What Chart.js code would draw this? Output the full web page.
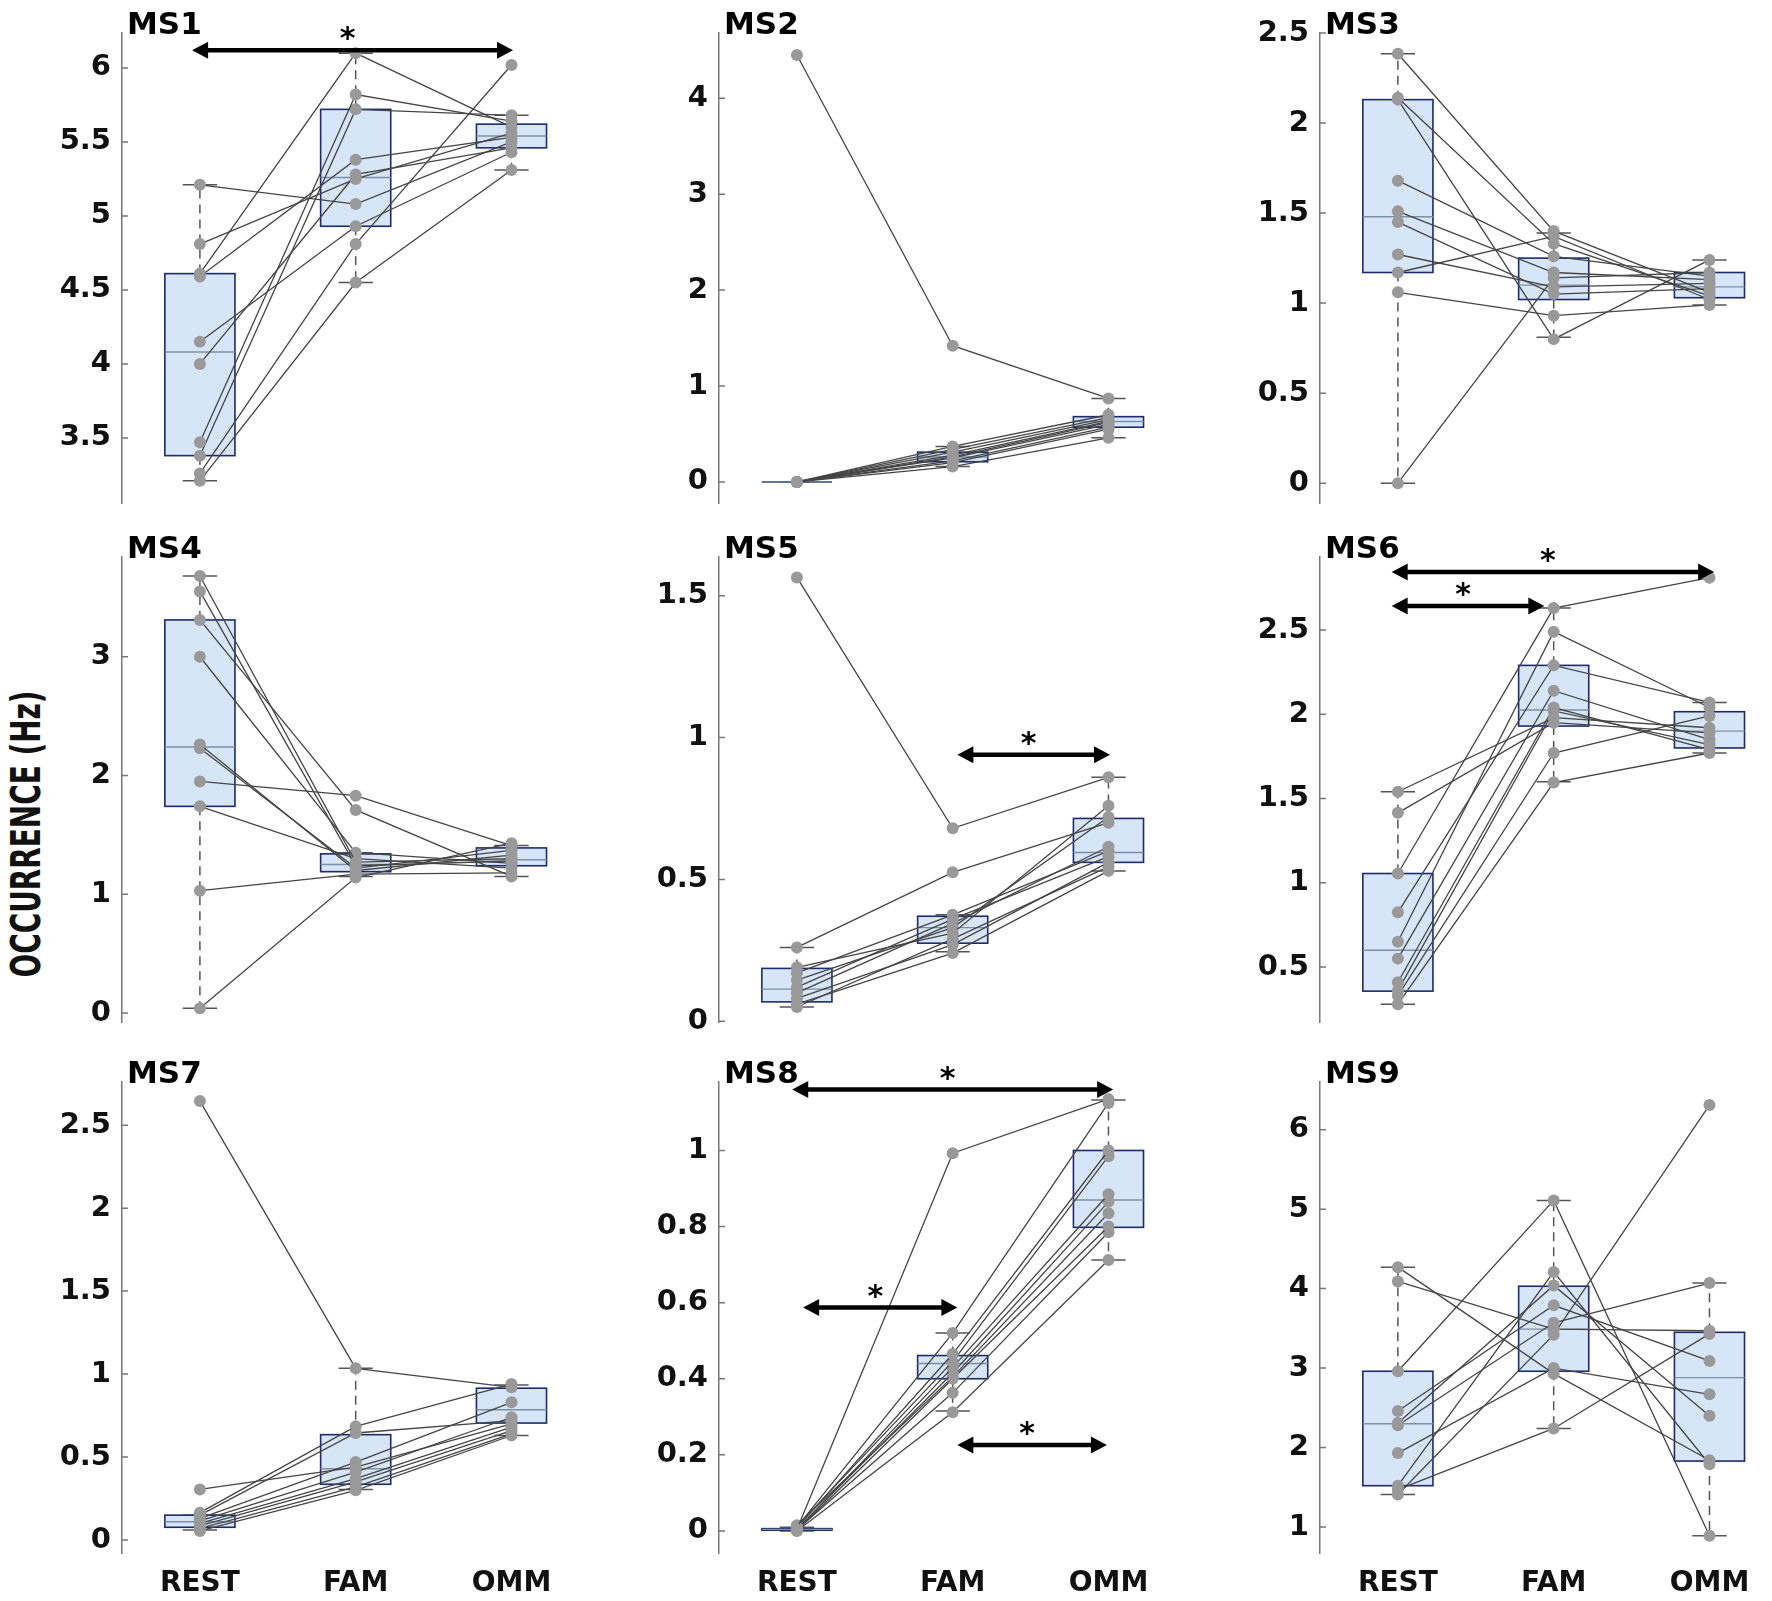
<!DOCTYPE html>
<html>
<head>
<meta charset="utf-8">
<script src="https://cdn.jsdelivr.net/npm/chart.js@4.4.1/dist/chart.umd.min.js"></script>
<style>
  html, body { margin: 0; padding: 0; background: #fff; }
  #fig { position: relative; width: 1772px; height: 1601px; overflow: hidden; }
  #fig canvas { position: absolute; }
  #ylabel {
    position: absolute; left: 26px; top: 834px;
    transform: translate(-50%, -50%) rotate(-90deg) scale(0.9, 1.3);
    font: bold 31px 'DejaVu Sans', sans-serif; white-space: nowrap; color: #111;
  }
</style>
</head>
<body>
<div id="fig"><div id="ylabel">OCCURRENCE (Hz)</div></div>
<script>
// data: 10 subjects, 3 conditions, 9 microstates
const titles = ['MS1', 'MS2', 'MS3', 'MS4', 'MS5', 'MS6', 'MS7', 'MS8', 'MS9'];
const conditions = ['REST', 'FAM', 'OMM'];

const yMin = [3.06, -0.22, -0.11, -0.076, -0.003, 0.174, -0.078, -0.058, 0.673];
const yMax = [6.236, 4.68, 2.5, 3.84, 1.637, 2.933, 2.76, 1.18, 6.6];
const yTicks = [
  [3.5, 4, 4.5, 5, 5.5, 6],
  [0, 1, 2, 3, 4],
  [0, 0.5, 1, 1.5, 2, 2.5],
  [0, 1, 2, 3],
  [0, 0.5, 1, 1.5],
  [0.5, 1, 1.5, 2, 2.5],
  [0, 0.5, 1, 1.5, 2, 2.5],
  [0, 0.2, 0.4, 0.6, 0.8, 1],
  [1, 2, 3, 4, 5, 6]
];

// one value per subject (same index = same subject)
const restValues = [
  [5.21, 4.81, 4.61, 4.59, 4.15, 4.00, 3.47, 3.38, 3.26, 3.21],
  [4.45, 0, 0, 0, 0, 0, 0, 0, 0, 0],
  [2.385, 2.14, 2.13, 1.68, 1.51, 1.45, 1.27, 1.17, 1.06, 0.00],
  [3.68, 3.55, 3.31, 3.00, 2.26, 2.23, 1.95, 1.74, 1.03, 0.04],
  [1.565, 0.26, 0.19, 0.17, 0.145, 0.12, 0.10, 0.08, 0.06, 0.05],
  [1.54, 1.415, 1.055, 0.825, 0.65, 0.55, 0.41, 0.36, 0.33, 0.28],
  [2.645, 0.305, 0.165, 0.15, 0.13, 0.115, 0.10, 0.085, 0.07, 0.055],
  [0.004, 0.010, 0.008, 0.012, 0.002, 0.005, 0.015, 0.001, 0.003, 0.0],
  [4.27, 4.09, 2.96, 2.46, 2.31, 2.28, 1.93, 1.52, 1.47, 1.41]
];
const famValues = [
  [5.08, 5.25, 6.10, 5.38, 4.93, 5.28, 5.82, 5.72, 4.81, 4.55],
  [1.42, 0.37, 0.34, 0.31, 0.28, 0.26, 0.25, 0.22, 0.20, 0.16],
  [1.40, 1.33, 0.80, 1.26, 1.17, 1.05, 1.09, 1.37, 0.93, 1.14],
  [1.27, 1.24, 1.71, 1.35, 1.20, 1.22, 1.83, 1.30, 1.17, 1.14],
  [0.68, 0.525, 0.31, 0.375, 0.33, 0.36, 0.345, 0.27, 0.24, 0.29],
  [1.98, 1.95, 2.63, 2.29, 2.49, 2.14, 2.04, 2.02, 1.77, 1.595],
  [1.035, 0.44, 0.685, 0.645, 0.47, 0.41, 0.37, 0.35, 0.32, 0.30],
  [0.993, 0.52, 0.465, 0.445, 0.43, 0.415, 0.405, 0.40, 0.363, 0.312],
  [2.93, 3.49, 5.11, 3.79, 4.04, 3.57, 3.00, 4.21, 2.24, 3.42]
];
const ommValues = [
  [5.50, 5.56, 5.60, 5.53, 5.43, 5.46, 5.64, 5.68, 6.02, 5.31],
  [0.87, 0.70, 0.67, 0.65, 0.63, 0.62, 0.60, 0.57, 0.55, 0.46],
  [1.06, 1.04, 1.24, 1.15, 1.13, 1.08, 1.11, 1.02, 0.99, 1.17],
  [1.30, 1.28, 1.15, 1.26, 1.33, 1.37, 1.41, 1.22, 1.18, 1.43],
  [0.86, 0.70, 0.76, 0.60, 0.72, 0.58, 0.615, 0.56, 0.53, 0.545],
  [1.92, 1.89, 2.81, 2.07, 2.04, 1.85, 1.79, 1.82, 1.99, 1.77],
  [0.92, 0.70, 0.94, 0.72, 0.83, 0.74, 0.68, 0.66, 0.64, 0.63],
  [1.135, 1.125, 1.00, 0.985, 0.885, 0.865, 0.835, 0.80, 0.785, 0.712],
  [1.84, 3.47, 0.89, 3.09, 2.40, 4.07, 2.67, 1.79, 3.43, 6.31]
];

// box plot statistics [REST, FAM, OMM] per microstate
const boxQ1 = [[3.38, 4.93, 5.46], [0, 0.21, 0.57], [1.17, 1.02, 1.03], [1.74, 1.19, 1.24], [0.068, 0.275, 0.56],
  [0.357, 1.93, 1.80], [0.077, 0.336, 0.705], [0.002, 0.40, 0.798], [1.52, 2.96, 1.83]];
const boxMed = [[4.08, 5.26, 5.54], [0, 0.26, 0.63], [1.48, 1.10, 1.09], [2.24, 1.25, 1.29], [0.113, 0.33, 0.595],
  [0.60, 2.025, 1.90], [0.11, 0.43, 0.785], [0.004, 0.44, 0.87], [2.30, 3.49, 2.88]];
const boxQ3 = [[4.61, 5.72, 5.62], [0, 0.31, 0.68], [2.13, 1.25, 1.17], [3.31, 1.34, 1.39], [0.186, 0.37, 0.715],
  [1.055, 2.29, 2.015], [0.15, 0.635, 0.915], [0.006, 0.461, 1.0], [2.96, 4.03, 3.45]];
const whiskerLo = [[3.21, 4.55, 5.31], [0, 0.16, 0.46], [0, 0.81, 0.99], [0.04, 1.15, 1.15], [0.05, 0.245, 0.53],
  [0.28, 1.6, 1.77], [0.06, 0.305, 0.63], [0, 0.315, 0.712], [1.41, 2.24, 0.89]];
const whiskerHi = [[5.21, 6.10, 5.68], [0, 0.37, 0.87], [2.385, 1.39, 1.24], [3.68, 1.35, 1.41], [0.26, 0.375, 0.86],
  [1.54, 2.63, 2.07], [0.15, 1.035, 0.935], [0.01, 0.52, 1.133], [4.27, 5.11, 4.07]];

// significance arrows: panel, start / end on the condition axis, height in Hz
const arrowPanel = [0, 4, 5, 5, 7, 7, 7];
const arrowFrom = [0.95, 2.03, 0.96, 0.96, 0.97, 1.04, 2.03];
const arrowTo = [3.01, 3.01, 3.03, 1.94, 3.03, 2.03, 2.99];
const arrowLevel = [6.12, 0.94, 2.844, 2.642, 1.16, 0.587, 0.226];

// layout
const colAxisX = [122, 719, 1320];
const rowTop = [33, 557, 1082];
const rowHeight = [470, 465, 471];
const Y_AXIS_W = 110, PLOT_W = 450, PAD_TOP = 33, X_AXIS_H = 48;
const BOX_HALF = 0.225, CAP_HALF = 0.11;
const FONT = "'DejaVu Sans', sans-serif";

const panelPlugin = {
  id: 'panel',
  beforeDatasetsDraw(chart, args, opts) {
    const i = opts.index;
    const { ctx, chartArea } = chart;
    const x = chart.scales.x, y = chart.scales.y;
    ctx.save();
    // small inward tick marks
    ctx.strokeStyle = '#777';
    ctx.lineWidth = 1.5;
    ctx.beginPath();
    yTicks[i].forEach(v => {
      const py = y.getPixelForValue(v);
      ctx.moveTo(chartArea.left, py);
      ctx.lineTo(chartArea.left + 6, py);
    });
    ctx.stroke();

    for (let g = 0; g < 3; g++) {
      const xc = x.getPixelForValue(g + 1);
      const xl = x.getPixelForValue(g + 1 - BOX_HALF);
      const xr = x.getPixelForValue(g + 1 + BOX_HALF);
      const cl = x.getPixelForValue(g + 1 - CAP_HALF);
      const cr = x.getPixelForValue(g + 1 + CAP_HALF);
      const yq1 = y.getPixelForValue(boxQ1[i][g]);
      const yq3 = y.getPixelForValue(boxQ3[i][g]);
      const ymd = y.getPixelForValue(boxMed[i][g]);
      const ylo = y.getPixelForValue(whiskerLo[i][g]);
      const yhi = y.getPixelForValue(whiskerHi[i][g]);

      // dashed whiskers
      ctx.strokeStyle = '#555';
      ctx.lineWidth = 1.5;
      ctx.setLineDash([9, 6]);
      ctx.beginPath();
      ctx.moveTo(xc, yq3); ctx.lineTo(xc, yhi);
      ctx.moveTo(xc, yq1); ctx.lineTo(xc, ylo);
      ctx.stroke();
      ctx.setLineDash([]);
      // caps
      ctx.beginPath();
      ctx.moveTo(cl, yhi); ctx.lineTo(cr, yhi);
      ctx.moveTo(cl, ylo); ctx.lineTo(cr, ylo);
      ctx.stroke();
      // box
      ctx.fillStyle = '#d6e5f7';
      ctx.fillRect(xl, yq3, xr - xl, yq1 - yq3);
      ctx.strokeStyle = '#1d2b6e';
      ctx.lineWidth = 1.6;
      ctx.strokeRect(xl, yq3, xr - xl, yq1 - yq3);
      // median
      ctx.strokeStyle = '#7d90a6';
      ctx.lineWidth = 1.4;
      ctx.beginPath();
      ctx.moveTo(xl, ymd); ctx.lineTo(xr, ymd);
      ctx.stroke();
    }
    ctx.restore();
  },
  afterDraw(chart, args, opts) {
    const i = opts.index;
    const { ctx, chartArea } = chart;
    const x = chart.scales.x, y = chart.scales.y;
    ctx.save();
    // arrows with asterisks
    arrowPanel.forEach((p, k) => {
      if (p !== i) return;
      const xa = x.getPixelForValue(arrowFrom[k]);
      const xb = x.getPixelForValue(arrowTo[k]);
      const ya = y.getPixelForValue(arrowLevel[k]);
      const head = 16, half = 8.5;
      ctx.strokeStyle = '#000';
      ctx.fillStyle = '#000';
      ctx.lineWidth = 4.5;
      ctx.beginPath();
      ctx.moveTo(xa + head - 2, ya); ctx.lineTo(xb - head + 2, ya);
      ctx.stroke();
      ctx.beginPath();
      ctx.moveTo(xa, ya); ctx.lineTo(xa + head, ya - half); ctx.lineTo(xa + head, ya + half); ctx.closePath();
      ctx.moveTo(xb, ya); ctx.lineTo(xb - head, ya - half); ctx.lineTo(xb - head, ya + half); ctx.closePath();
      ctx.fill();
      ctx.font = 'bold 30px ' + FONT;
      ctx.textAlign = 'center';
      ctx.textBaseline = 'alphabetic';
      ctx.fillText('*', (xa + xb) / 2 - 5, ya - 2);
    });
    // panel title
    ctx.font = 'bold 31px ' + FONT;
    ctx.fillStyle = '#000';
    ctx.textAlign = 'left';
    ctx.textBaseline = 'alphabetic';
    ctx.fillText(titles[i], chartArea.left + 5, chartArea.top + 1);
    ctx.restore();
  }
};
Chart.register(panelPlugin);

const fig = document.getElementById('fig');

titles.forEach((title, i) => {
  const r = Math.floor(i / 3), c = i % 3;
  const bottomRow = r === 2;
  const padBottom = bottomRow ? 0 : 30;
  const w = Y_AXIS_W + PLOT_W;
  const h = PAD_TOP + rowHeight[r] + (bottomRow ? X_AXIS_H : padBottom);
  const canvas = document.createElement('canvas');
  canvas.width = w;
  canvas.height = h;
  canvas.style.width = w + 'px';
  canvas.style.height = h + 'px';
  canvas.style.left = (colAxisX[c] - Y_AXIS_W) + 'px';
  canvas.style.top = (rowTop[r] - PAD_TOP) + 'px';
  fig.appendChild(canvas);

  const datasets = restValues[i].map((v, s) => ({
    data: [{ x: 1, y: v }, { x: 2, y: famValues[i][s] }, { x: 3, y: ommValues[i][s] }],
    borderColor: '#454545',
    borderWidth: 1.3,
    pointRadius: 6,
    pointBackgroundColor: '#999999',
    pointBorderColor: '#999999',
    pointBorderWidth: 0,
    tension: 0,
    clip: false
  }));

  new Chart(canvas, {
    type: 'line',
    data: { datasets },
    options: {
      responsive: false,
      animation: false,
      devicePixelRatio: 1,
      layout: { padding: { top: PAD_TOP, bottom: padBottom, left: 0, right: 0 } },
      plugins: {
        legend: { display: false },
        tooltip: { enabled: false },
        panel: { index: i }
      },
      scales: {
        x: {
          type: 'linear',
          min: 0.5,
          max: 3.35,
          display: bottomRow,
          grid: { display: false, drawTicks: false },
          border: { display: false },
          afterBuildTicks: s => { s.ticks = conditions.map((_, k) => ({ value: k + 1 })); },
          afterFit: s => { if (bottomRow) s.height = X_AXIS_H; },
          ticks: {
            padding: 14,
            color: '#111',
            font: { family: FONT, size: 28, weight: 'bold' },
            callback: v => conditions[v - 1]
          }
        },
        y: {
          type: 'linear',
          min: yMin[i],
          max: yMax[i],
          grid: { display: false, drawTicks: false },
          border: { display: true, color: '#777', width: 1.5 },
          afterBuildTicks: s => { s.ticks = yTicks[i].map(v => ({ value: v })); },
          afterFit: s => { s.width = Y_AXIS_W; },
          ticks: {
            padding: 11,
            color: '#111',
            font: { family: FONT, size: 29, weight: 'bold' },
            callback: v => String(v)
          }
        }
      }
    }
  });
});
</script>
</body>
</html>
